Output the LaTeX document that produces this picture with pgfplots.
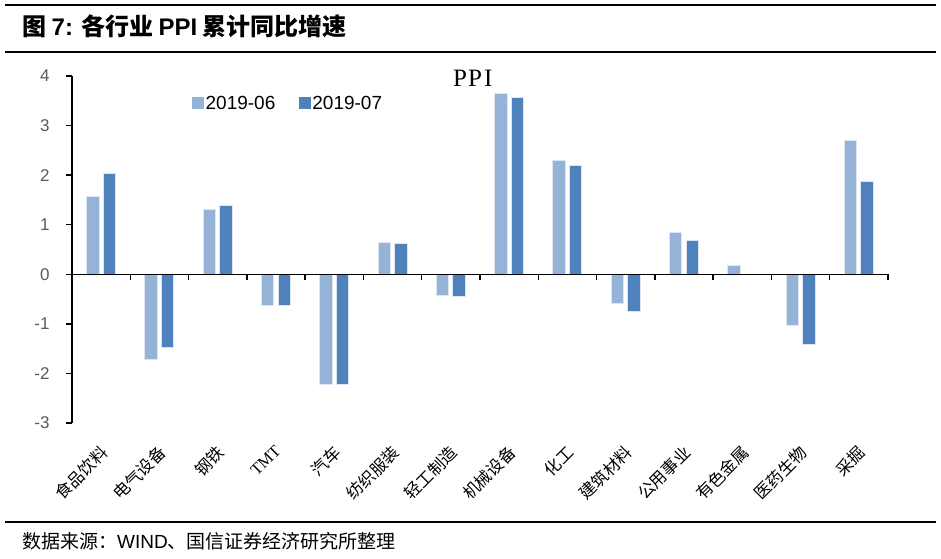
\documentclass[border=0pt]{standalone}
\usepackage{fontspec}
\setmainfont{Liberation Sans}
\newfontfamily\cjk{Noto Sans CJK SC}
\newfontfamily\tms{Liberation Serif}
\usepackage{pgfplots}
\pgfplotsset{compat=1.18}
\definecolor{juncol}{RGB}{149,179,215}
\definecolor{julcol}{RGB}{79,129,189}
\definecolor{edge}{RGB}{220,230,242}
\definecolor{ticklab}{RGB}{89,89,89}

\begin{document}
\begin{tikzpicture}[x=1pt,y=1pt]
\path[use as bounding box] (0,0) rectangle (941,558);
% frame lines and captions
\draw[line width=1.3pt] (5,553) -- (936,553);
\draw[line width=1.3pt] (5,506) -- (936,506);
\draw[line width=1.3pt] (5,36) -- (936,36);
\node[anchor=base west, inner sep=0pt] at (22,522)
  {\fontsize{24}{28}\selectfont\cjk\bfseries 图 {\rmfamily\bfseries 7:}\hspace{8pt}各行业 {\rmfamily\bfseries PPI} 累计同比增速};
\node[anchor=base west, inner sep=0pt] at (22,10)
  {\fontsize{19}{22}\selectfont\cjk 数据来源：{\rmfamily WIND}、国信证券经济研究所整理};
\node[anchor=base west, inner sep=0pt] at (453,471.5)
  {\fontsize{25}{28}\selectfont\tms P\kern1pt P\kern2pt I};

\begin{axis}[
  at={(72pt,135pt)}, anchor=south west,
  scale only axis, width=816pt, height=347pt,
  xmin=0.5, xmax=14.5, ymin=-3, ymax=4,
  axis y line*=left, axis x line*=bottom,
  x axis line style={draw=none},
  y axis line style={line width=1.5pt, black},
  ytick={-3,...,4},
  tick align=outside, major tick length=6pt,
  y tick style={line width=1.5pt, black},
  xtick={1,...,14}, x tick style={draw=none},
  xticklabels={食品饮料, 电气设备, 钢铁, {\tms TMT}, 汽车, 纺织服装, 轻工制造, 机械设备, 化工, 建筑材料, 公用事业, 有色金属, 医药生物, 采掘},
  xticklabel style={font=\fontsize{16.5}{20}\selectfont\cjk, inner sep=0pt, xshift=-2pt, yshift=-15pt, rotate=45, anchor=north east},
  yticklabel style={font=\fontsize{17}{20}\selectfont, text=ticklab, xshift=-13pt, /pgf/number format/assume math mode=true},
  legend style={at={(0.147,0.921)}, anchor=west, draw=none, fill=none,
    legend columns=2, font=\fontsize{19}{22}\selectfont,
    /tikz/every even column/.style={column sep=22pt},
    inner sep=0pt, nodes={inner sep=1.5pt}},
  clip=false,
]
\addplot[ybar, bar width=12.5pt, bar shift=-8.3pt, fill=juncol, draw=edge, line width=1pt,
  legend image code/.code={\fill[juncol] (0pt,-5.5pt) rectangle (11pt,5.5pt);}]
  coordinates {(1,1.56) (2,-1.72) (3,1.30) (4,-0.62) (5,-2.22) (6,0.65) (7,-0.43)
               (8,3.64) (9,2.29) (10,-0.59) (11,0.84) (12,0.18) (13,-1.03) (14,2.70)};
\addplot[ybar, bar width=12.5pt, bar shift=8.3pt, fill=julcol, draw=edge, line width=1pt,
  legend image code/.code={\fill[julcol] (0pt,-5.5pt) rectangle (11pt,5.5pt);}]
  coordinates {(1,2.04) (2,-1.47) (3,1.39) (4,-0.62) (5,-2.22) (6,0.63) (7,-0.45)
               (8,3.57) (9,2.19) (10,-0.75) (11,0.69) (12,0) (13,-1.41) (14,1.88)};
\legend{2019-06, 2019-07}
% zero line with category separators
\draw[line width=1.5pt] (axis cs:0.5,0) -- (axis cs:14.5,0);
\pgfplotsinvokeforeach{1,...,14}{\draw[line width=1.5pt] (axis cs:#1.5,0) -- ++(0pt,-6pt);}
\end{axis}
\end{tikzpicture}
\end{document}
